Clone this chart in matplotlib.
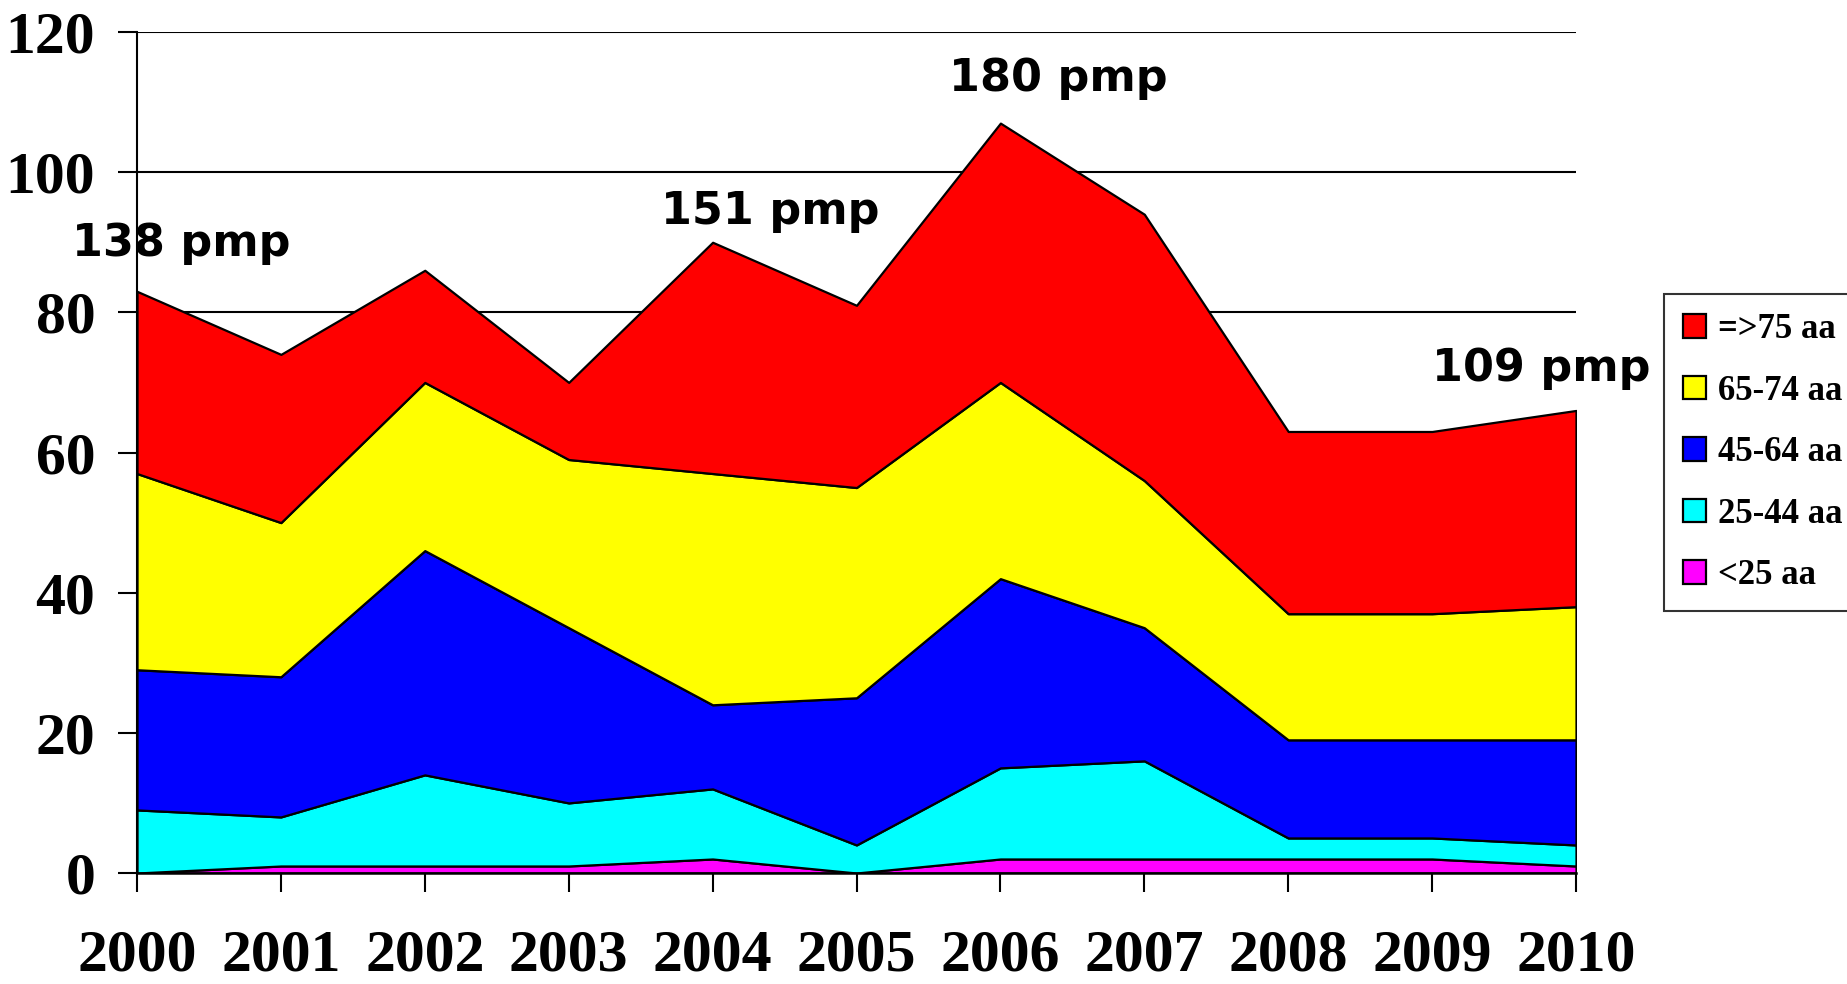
import matplotlib.pyplot as plt
import numpy as np

# 数据
years = [2000, 2001, 2002, 2003, 2004, 2005, 2006, 2007, 2008, 2009, 2010]
lt25 = [0, 1, 1, 1, 2, 0, 2, 2, 2, 2, 1]
a25_44 = [9, 7, 13, 9, 10, 4, 13, 14, 3, 3, 3]
a45_64 = [20, 20, 32, 25, 12, 21, 27, 19, 14, 14, 15]
a65_74 = [28, 22, 24, 24, 33, 30, 28, 21, 18, 18, 19]
ge75 = [26, 24, 16, 11, 33, 26, 37, 38, 26, 26, 28]
labels = ['<25 aa', '25-44 aa', '45-64 aa', '65-74 aa', '=>75 aa']
colors = ['#ff00ff', '#00ffff', '#0000ff', '#ffff00', '#ff0000']

# 注释文字
notes = ['138 pmp', '151 pmp', '180 pmp', '109 pmp']
note_x = [2000.31, 2004.40, 2006.40, 2009.76]
note_y = [89.8, 94.4, 113.4, 72.0]

fig = plt.figure(figsize=(18.47, 9.84), dpi=100)
ax = fig.add_axes([137 / 1847, 1 - 873 / 984, (1576 - 137) / 1847, (873 - 32) / 984])

polys = ax.stackplot(years, lt25, a25_44, a45_64, a65_74, ge75,
                     colors=colors, labels=labels,
                     edgecolor='black', linewidth=1.6, zorder=2)

# 网格线
ax.set_ylim(0, 120)
ax.set_xlim(2000, 2010)
ax.set_yticks(np.arange(0, 121, 20))
ax.set_xticks(years)
ax.yaxis.grid(True, color='black', linewidth=1.5, zorder=0)
ax.set_axisbelow(True)

for s in ['top', 'right']:
    ax.spines[s].set_visible(False)
ax.spines['left'].set_linewidth(1.5)
ax.spines['bottom'].set_linewidth(1.8)
ax.spines['bottom'].set_zorder(3)

tfont = {'family': 'Liberation Serif', 'weight': 'bold', 'size': 43}
ax.set_yticklabels([str(v) for v in range(0, 121, 20)], fontdict=tfont)
ax.set_xticklabels([str(y) for y in years], fontdict=tfont)
ax.tick_params(axis='y', length=14, width=1.5, pad=16)
ax.tick_params(axis='x', length=14, width=1.5, pad=27)

for t, x, y in zip(notes, note_x, note_y):
    ax.text(x, y, t, ha='center', va='center', fontsize=32,
            fontweight='bold', family='DejaVu Sans', clip_on=False, zorder=5)

# 图例
h, l = ax.get_legend_handles_labels()
leg = fig.legend(h[::-1], l[::-1], loc='upper left',
                 bbox_to_anchor=(1664 / 1847, 1 - 294 / 984),
                 prop={'family': 'Liberation Serif', 'weight': 'bold', 'size': 25},
                 frameon=True, fancybox=False, edgecolor='black',
                 handlelength=0.66, handleheight=0.66, handletextpad=0.35,
                 labelspacing=0.82, borderpad=0.55, borderaxespad=0)
leg.get_frame().set_linewidth(1.5)

fig.savefig('out.png', dpi=100)
